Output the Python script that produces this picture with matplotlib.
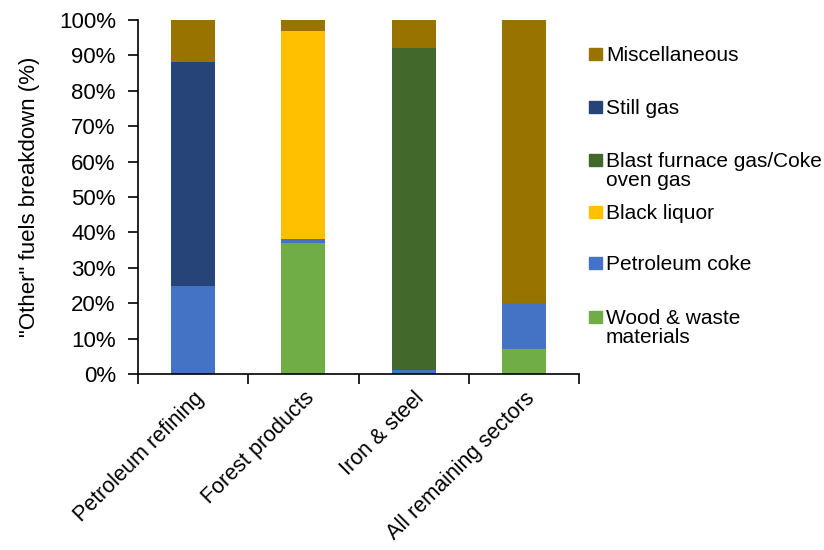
import matplotlib
matplotlib.use("Agg")
import matplotlib.pyplot as plt
from matplotlib.patches import Rectangle
import numpy as np

plt.rcParams['font.family'] = ['Liberation Sans', 'DejaVu Sans']

sectors = ["Petroleum refining", "Forest products", "Iron & steel", "All remaining sectors"]

# shares in %, stacked bottom to top
wood = [0, 37, 0, 7]
pet_coke = [25, 1, 1, 13]
black_liquor = [0, 59, 0, 0]
blast_furnace = [0, 0, 91, 0]
still_gas = [63, 0, 0, 0]
misc = [12, 3, 8, 80]

series = [
    ("Wood & waste\nmaterials", wood, "#70AD47"),
    ("Petroleum coke", pet_coke, "#4472C4"),
    ("Black liquor", black_liquor, "#FFC000"),
    ("Blast furnace gas/Coke\noven gas", blast_furnace, "#43682B"),
    ("Still gas", still_gas, "#264478"),
    ("Miscellaneous", misc, "#997300"),
]

fig = plt.figure(figsize=(8.24, 5.5), dpi=100)
ax = fig.add_axes([138 / 824, 1 - 374 / 550, 441 / 824, 354 / 550])

x = np.arange(len(sectors))
bottom = np.zeros(len(sectors))
for label, vals, color in series:
    ax.bar(x, vals, 0.4, bottom=bottom, color=color, linewidth=0)
    bottom += np.array(vals)

ax.set_xlim(-0.5, len(sectors) - 0.5)
ax.set_ylim(0, 100)
ax.set_yticks(range(0, 101, 10))
ax.set_yticklabels([f"{v}%" for v in range(0, 101, 10)], fontsize=16)
ax.set_xticks(np.arange(len(sectors) + 1) - 0.5)
ax.set_xticklabels([])
ax.set_xticks(x, minor=True)
ax.set_xticklabels(sectors, minor=True, rotation=45, ha='right',
                   rotation_mode='anchor', fontsize=15.5)
ax.tick_params(axis='x', which='minor', length=0, pad=10)
ax.tick_params(axis='x', which='major', length=7, width=1.2, direction='out')
ax.tick_params(axis='y', length=7, width=1.2, pad=9)

for s in ['top', 'right']:
    ax.spines[s].set_visible(False)
for s in ['left', 'bottom']:
    ax.spines[s].set_linewidth(1.2)

ax.set_ylabel('"Other" fuels breakdown (%)', fontsize=16)
ax.yaxis.set_label_coords(-98 / 441, 0.5)

# legend drawn by hand so the swatch lines up with the first text line
legend_y = [317, 263, 212, 160, 107, 54]
for (label, vals, color), yc in zip(series, legend_y):
    fig.patches.append(Rectangle((589 / 824, 1 - (yc + 6) / 550), 13 / 824, 12 / 550,
                                 transform=fig.transFigure, color=color))
    fig.text(606 / 824, 1 - (yc - 8) / 550, label, fontsize=15, va='top',
             linespacing=1.0)

fig.savefig("out.png", dpi=100)
